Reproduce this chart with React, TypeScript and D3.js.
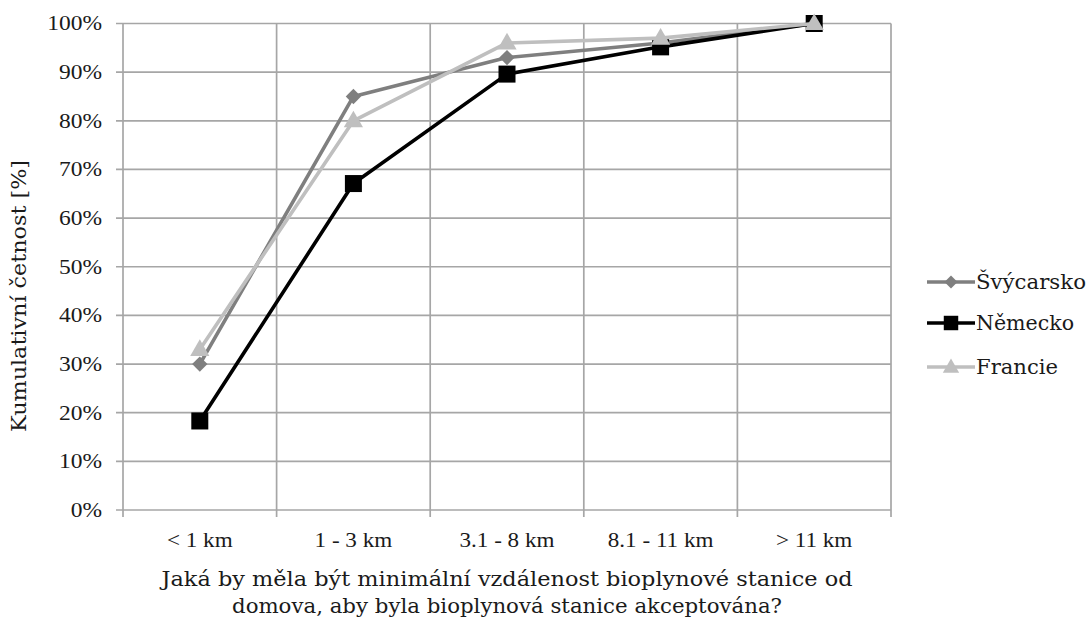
import React from "react";
import * as d3 from "d3";

const categories = ["< 1 km", "1 - 3 km", "3.1 - 8 km", "8.1 - 11 km", "> 11 km"];
const svycarsko = [30, 85, 93, 96, 100];
const nemecko = [18.3, 67.1, 89.6, 95.2, 100];
const francie = [33, 80, 96, 97, 100];
const yTicks = [0, 10, 20, 30, 40, 50, 60, 70, 80, 90, 100];
const seriesNames = ["Švýcarsko", "Německo", "Francie"];

const W = 1089, H = 621;
const left = 123, right = 891, top = 23.5, bottom = 510;

export default function App() {
  const x = d3.scaleBand<string>().domain(categories).range([left, right]);
  const y = d3.scaleLinear().domain([0, 100]).range([bottom, top]);
  const line = d3.line<number>().x((_, i) => (x(categories[i]) as number) + x.bandwidth() / 2).y((d) => y(d));

  const series = [
    { name: seriesNames[0], data: svycarsko, color: "#7f7f7f", marker: "diamond", lw: 110 },
    { name: seriesNames[1], data: nemecko, color: "#000000", marker: "square", lw: 98 },
    { name: seriesNames[2], data: francie, color: "#bfbfbf", marker: "triangle", lw: 82 },
  ];

  const marker = (type: string, cx: number, cy: number, color: string, key: any, s = 1) => {
    if (type === "square") return <rect key={key} x={cx - 8.5 * s} y={cy - 8.5 * s} width={17 * s} height={17 * s} fill={color} />;
    if (type === "diamond") {
      const sym = d3.symbol().type(d3.symbolDiamond2).size(150 * s * s)();
      return <path key={key} d={sym as string} transform={`translate(${cx},${cy})`} fill={color} />;
    }
    const sym = d3.symbol().type(d3.symbolTriangle).size(160 * s * s)();
    return <path key={key} d={sym as string} transform={`translate(${cx},${cy + 1})`} fill={color} />;
  };

  const grid = "#a6a6a6";
  const legendY = [282, 323, 367];
  const txt = "#1a1a1a";

  return (
    <svg width={W} height={H} style={{ position: "absolute", left: 0, top: 0, background: "#fff" }}>
      {yTicks.map((t) => (
        <line key={"h" + t} x1={left - 7} x2={right} y1={y(t)} y2={y(t)} stroke={grid} strokeWidth={1.7} />
      ))}
      {d3.range(categories.length + 1).map((i) => {
        const xx = left + i * x.step();
        return <line key={"v" + i} x1={xx} x2={xx} y1={top} y2={bottom + 7} stroke={grid} strokeWidth={1.7} />;
      })}
      {yTicks.map((t) => (
        <text key={"yt" + t} x={102} y={y(t) + 7} textAnchor="end" fontFamily="Liberation Serif" fontSize={21}
          transform={`translate(102,0) scale(1.12,1) translate(-102,0)`} fill={txt}>
          {t}%
        </text>
      ))}
      {categories.map((c) => {
        const cx = (x(c) as number) + x.bandwidth() / 2;
        return (
          <text key={c} x={cx} y={547} textAnchor="middle" fontFamily="Liberation Serif" fontSize={21}
            transform={`translate(${cx},0) scale(1.1,1) translate(${-cx},0)`} fill={txt}>
            {c}
          </text>
        );
      })}
      {series.map((s) => (
        <g key={s.name}>
          <path d={line(s.data) as string} fill="none" stroke={s.color} strokeWidth={3.6} strokeLinejoin="round" />
          {s.data.map((v, i) => marker(s.marker, (x(categories[i]) as number) + x.bandwidth() / 2, y(v), s.color, i))}
        </g>
      ))}
      <text x={0} y={0} transform={`translate(26,296) rotate(-90)`} textAnchor="middle" fontFamily="DejaVu Serif"
        fontSize={20} textLength={272} lengthAdjust="spacingAndGlyphs" fill={txt}>
        Kumulativní četnost [%]
      </text>
      <text x={507} y={586} textAnchor="middle" fontFamily="DejaVu Serif" fontSize={20} textLength={691}
        lengthAdjust="spacingAndGlyphs" fill={txt}>
        Jaká by měla být minimální vzdálenost bioplynové stanice od
      </text>
      <text x={507} y={613} textAnchor="middle" fontFamily="DejaVu Serif" fontSize={20} textLength={550}
        lengthAdjust="spacingAndGlyphs" fill={txt}>
        domova, aby byla bioplynová stanice akceptována?
      </text>
      {series.map((s, i) => (
        <g key={"lg" + i}>
          <line x1={927} x2={975} y1={legendY[i]} y2={legendY[i]} stroke={s.color} strokeWidth={3.6} />
          {marker(s.marker, 951, legendY[i], s.color, "m" + i, 0.85)}
          <text x={976} y={legendY[i] + 7} fontFamily="DejaVu Serif" fontSize={21} textLength={s.lw}
            lengthAdjust="spacingAndGlyphs" fill={txt}>
            {s.name}
          </text>
        </g>
      ))}
    </svg>
  );
}
